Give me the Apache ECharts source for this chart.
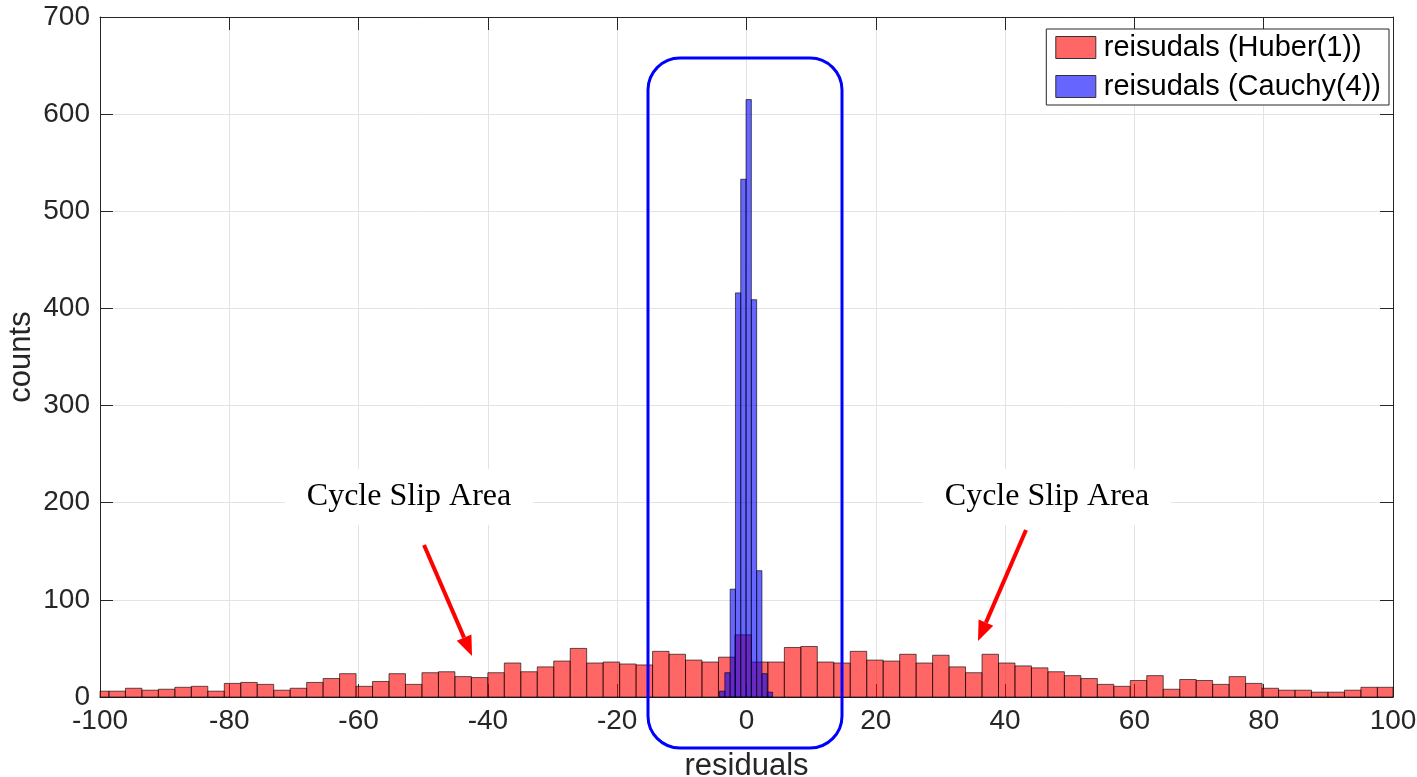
<!DOCTYPE html>
<html lang="en">
<head>
<meta charset="UTF-8">
<title>Residuals histogram</title>
<script src="https://cdn.jsdelivr.net/npm/echarts@6/dist/echarts.min.js"></script>
<style>
  html, body { margin: 0; padding: 0; background: #fff; }
  #main { width: 1417px; height: 777px; }
</style>
</head>
<body>
<div id="main"></div>
<script>
const seriesNames = ['reisudals (Huber(1))', 'reisudals (Cauchy(4))'];

// Huber histogram: first bin edge, bin width, counts per bin
const huberStart = -101.16;
const huberWidth = 2.548;
const huberCounts = [
    6, 6, 9, 7, 8, 10, 11, 6, 14, 15,
    13, 7, 9, 15, 19, 24, 11, 16, 24, 13,
    25, 26, 21, 20, 25, 35, 26, 31, 37, 50,
    35, 36, 34, 33, 47, 44, 38, 36, 41, 64,
    36, 36, 51, 52, 36, 35, 47, 38, 37, 44,
    35, 43, 31, 25, 44, 35, 32, 30, 26, 22,
    19, 13, 11, 17, 22, 8, 18, 17, 13, 21,
    14, 9, 7, 7, 5, 5, 7, 10, 10
];

// Cauchy histogram
const cauchyStart = -4.17;
const cauchyWidth = 0.82;
const cauchyCounts = [6, 25, 111, 416, 533, 615, 409, 130, 24, 5];

const fills = ['rgba(255,0,0,0.6)', 'rgba(0,0,255,0.6)'];
const edge = 'rgba(0,0,0,0.62)';
const sans = '"Liberation Sans", Arial, Helvetica, sans-serif';
const serif = '"Liberation Serif", "Times New Roman", serif';
const axisColor = '#262626';

function bins(start, width, counts) {
    return counts.map(function (c, i) {
        return [start + i * width, start + (i + 1) * width, c];
    });
}

function histItem(fill) {
    return function (params, api) {
        const p0 = api.coord([api.value(0), api.value(2)]);
        const p1 = api.coord([api.value(1), 0]);
        const cs = params.coordSys;
        const rect = echarts.graphic.clipRectByRect(
            { x: p0[0], y: p0[1], width: p1[0] - p0[0], height: p1[1] - p0[1] },
            { x: cs.x, y: cs.y, width: cs.width, height: cs.height }
        );
        return rect && {
            type: 'rect',
            shape: rect,
            style: { fill: fill, stroke: edge, lineWidth: 1 }
        };
    };
}

function arrow(x1, y1, x2, y2) {
    const a = Math.atan2(y2 - y1, x2 - x1);
    const L = 20, W = 8;
    const bx = x2 - L * Math.cos(a), by = y2 - L * Math.sin(a);
    return [
        { type: 'line', z: 50, shape: { x1: x1, y1: y1, x2: bx, y2: by },
          style: { stroke: '#ff0000', lineWidth: 4 } },
        { type: 'polygon', z: 50,
          shape: { points: [[x2, y2],
              [bx + W * Math.sin(a), by - W * Math.cos(a)],
              [bx - W * Math.sin(a), by + W * Math.cos(a)]] },
          style: { fill: '#ff0000' } }
    ];
}

function slipText(cx, cy) {
    return {
        type: 'text', z: 40, x: cx, y: cy,
        style: {
            text: 'Cycle Slip Area', font: '32px ' + serif, fill: '#000',
            align: 'center', verticalAlign: 'middle',
            backgroundColor: '#fff', padding: [12, 22]
        }
    };
}

const valueAxisBase = {
    type: 'value',
    axisLine: { show: true, onZero: false, lineStyle: { color: axisColor, width: 1 } },
    axisTick: { show: true, inside: true, length: 13, lineStyle: { color: axisColor } }
};

const chart = echarts.init(document.getElementById('main'));
chart.setOption({
    animation: false,
    backgroundColor: '#fff',
    grid: { left: 100, right: 24, top: 17, bottom: 80, outerBoundsMode: 'none', containLabel: false },
    legend: {
        orient: 'vertical',
        right: 28,
        top: 29,
        backgroundColor: '#fff',
        borderColor: axisColor,
        borderWidth: 1,
        padding: [4, 8, 4, 9],
        itemWidth: 40,
        itemHeight: 22,
        itemGap: 10,
        textStyle: { fontSize: 29, color: '#000', fontFamily: sans, padding: [0, 0, 0, 3] },
        data: seriesNames.map(function (n, i) {
            return { name: n, icon: 'rect',
                     itemStyle: { color: fills[i], borderColor: '#333', borderWidth: 1 } };
        })
    },
    xAxis: [
        Object.assign({}, valueAxisBase, {
            min: -100, max: 100, interval: 20, position: 'bottom',
            name: 'residuals', nameLocation: 'middle', nameGap: 54,
            nameTextStyle: { fontSize: 31, color: axisColor, fontFamily: sans },
            axisLabel: { fontSize: 28, color: axisColor, fontFamily: sans, margin: 10 },
            splitLine: { show: true, lineStyle: { color: '#e3e3e3', width: 1 } }
        }),
        Object.assign({}, valueAxisBase, {
            min: -100, max: 100, interval: 20, position: 'top',
            axisLabel: { show: false }, splitLine: { show: false }
        })
    ],
    yAxis: [
        Object.assign({}, valueAxisBase, {
            min: 0, max: 700, interval: 100, position: 'left',
            name: 'counts', nameLocation: 'middle', nameGap: 63, nameMoveOverlap: false,
            nameTextStyle: { fontSize: 31, color: axisColor, fontFamily: sans },
            axisLabel: { fontSize: 28, color: axisColor, fontFamily: sans, margin: 10 },
            splitLine: { show: true, lineStyle: { color: '#e3e3e3', width: 1 } }
        }),
        Object.assign({}, valueAxisBase, {
            min: 0, max: 700, interval: 100, position: 'right',
            axisLabel: { show: false }, splitLine: { show: false }
        })
    ],
    series: [
        {
            name: seriesNames[0], type: 'custom',
            itemStyle: { color: fills[0] },
            renderItem: histItem(fills[0]),
            encode: { x: [0, 1], y: 2 },
            data: bins(huberStart, huberWidth, huberCounts)
        },
        {
            name: seriesNames[1], type: 'custom',
            itemStyle: { color: fills[1] },
            renderItem: histItem(fills[1]),
            encode: { x: [0, 1], y: 2 },
            data: bins(cauchyStart, cauchyWidth, cauchyCounts)
        }
    ],
    graphic: [
        slipText(409, 497),
        slipText(1047, 497),
        ...arrow(424, 545, 472, 656),
        ...arrow(1026, 530, 978, 641),
        {
            type: 'rect', z: 60,
            shape: { x: 648, y: 58, width: 194, height: 690, r: 32 },
            style: { fill: 'none', stroke: '#0000ff', lineWidth: 3 }
        }
    ]
});
</script>
</body>
</html>
